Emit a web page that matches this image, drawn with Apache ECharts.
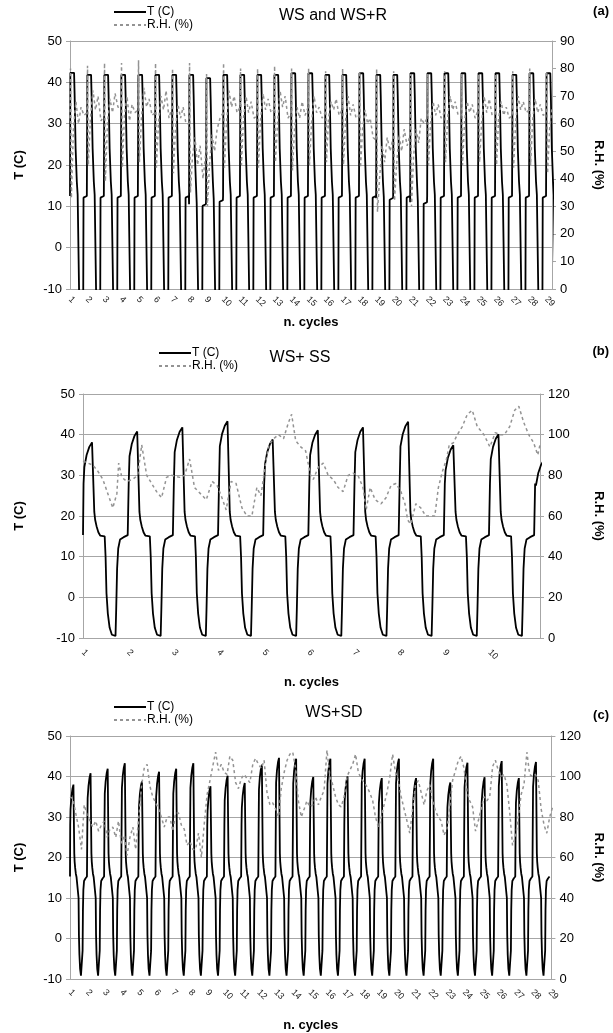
<!DOCTYPE html>
<html>
<head>
<meta charset="utf-8">
<script src="https://cdn.jsdelivr.net/npm/echarts@6/dist/echarts.min.js"></script>
<style>
  html, body { margin: 0; padding: 0; background: #fff; }
  #chart { width: 613px; height: 1033px; }
</style>
</head>
<body>
<div id="chart"></div>
<script>
// ---------------- data ----------------
// x is measured in cycles: cycle k spans [k-1, k); tick k-1 carries label "k".
const cycleLabelsA = ['1','2','3','4','5','6','7','8','9','10','11','12','13','14','15','16','17','18','19','20','21','22','23','24','25','26','27','28','29'];
const cycleLabelsB = ['1','2','3','4','5','6','7','8','9','10'];
const cycleLabelsC = ['1','2','3','4','5','6','7','8','9','10','11','12','13','14','15','16','17','18','19','20','21','22','23','24','25','26','27','28','29'];

// Temperature profile of one cycle: [phase, value, reference]
// reference 'peak' -> value is an offset from that cycle's peak,
// 'plat' -> offset from that cycle's plateau, none -> absolute °C.
const tProfileA = [
  [0.00, 0, 'plat'], [0.02, 0, 'peak'], [0.24, 0, 'peak'], [0.27, -5, 'peak'],
  [0.33, 24], [0.40, 16], [0.45, 0.3, 'plat'], [0.55, 0, 'plat'],
  [0.575, -22], [0.77, -22], [0.795, -0.4, 'plat'], [0.83, 0, 'plat'], [0.99, 0, 'plat']
];
const tProfileBC = [
  [0.00, 0.3, 'plat'], [0.012, 28], [0.03, -6.5, 'peak'], [0.08, -3.5, 'peak'],
  [0.14, -1.5, 'peak'], [0.20, -0.4, 'peak'], [0.235, 0, 'peak'], [0.25, 21],
  [0.27, 19], [0.30, 17.5], [0.34, 16], [0.38, 0.2, 'plat'], [0.48, 0, 'plat'],
  [0.50, 10], [0.52, 1], [0.55, -4], [0.59, -7.5], [0.64, -9.2], [0.72, -9.5],
  [0.735, -3], [0.755, 7], [0.78, 12], [0.82, -0.8, 'plat'], [0.90, -0.2, 'plat'], [0.99, 0.3, 'plat']
];

// (a) WS and WS+R
const peakA = [42.3, 41.8, 41.8, 41.8, 41.8, 41.8, 41.8, 41.8, 41.0, 41.8, 41.8, 41.8, 41.8, 42.2, 42.2,
               41.8, 41.8, 42.2, 41.8, 41.8, 42.2, 42.2, 42.2, 42.2, 42.2, 42.2, 41.8, 42.2, 42.2];
const plateauA = [12.5, 12.5, 12.5, 12.5, 12.5, 12.5, 12.5, 10.5, 11.5, 12.5, 12.5, 12.5, 12.5, 12.5, 12.5,
                  12.5, 12.5, 12.5, 12.0, 12.5, 11.0, 12.5, 12.5, 12.5, 12.5, 12.5, 12.5, 12.5, 12.5];
const rhPhaseA = [0, 0.03, 0.08, 0.20, 0.35, 0.50, 0.65, 0.82];
const rhA = [
  [62, 80, 33, 58, 68, 60, 66, 63], [64, 81, 45, 62, 72, 65, 70, 61], [63, 82, 39, 60, 69, 64, 71, 66],
  [66, 82, 44, 63, 70, 61, 67, 64], [65, 83, 46, 62, 73, 66, 69, 63], [64, 82, 44, 60, 70, 65, 72, 62],
  [66, 80, 42, 58, 67, 62, 66, 60], [60, 82, 35, 48, 55, 45, 52, 40], [50, 78, 30, 45, 56, 50, 58, 62],
  [64, 82, 44, 60, 72, 66, 70, 64], [66, 80, 45, 62, 70, 64, 68, 62], [63, 80, 44, 61, 71, 65, 69, 64],
  [65, 81, 46, 60, 72, 66, 70, 62], [64, 80, 43, 58, 66, 62, 68, 63], [66, 80, 45, 60, 70, 64, 66, 62],
  [64, 79, 46, 62, 68, 65, 69, 63], [65, 80, 45, 61, 70, 63, 67, 62], [63, 79, 44, 58, 65, 60, 62, 55],
  [54, 80, 28, 40, 52, 46, 55, 50], [55, 79, 32, 45, 56, 50, 58, 52], [56, 78, 30, 48, 58, 53, 62, 60],
  [62, 78, 45, 60, 68, 63, 67, 62], [64, 79, 46, 62, 70, 65, 68, 63], [63, 78, 45, 61, 68, 64, 67, 62],
  [65, 78, 46, 60, 70, 64, 69, 63], [64, 78, 45, 62, 68, 63, 66, 62], [63, 79, 44, 60, 70, 65, 68, 64],
  [65, 80, 45, 61, 69, 64, 67, 63], [64, 79, 42, 58, 66]
];

// (b) WS+ SS
const peakB = [38.5, 41.2, 42.2, 43.7, 39.2, 41.5, 42.2, 43.6, 37.8, 40.5, 34.0];
const plateauB = [15, 15, 15, 15, 15, 15, 15, 15, 15, 15, 15];
const rhB = [
  [0.00, 87], [0.11, 86], [0.22, 85], [0.33, 82], [0.44, 78], [0.55, 71], [0.66, 64], [0.75, 71], [0.79, 86], [0.86, 79], [0.97, 77],
  [1.10, 78], [1.21, 80], [1.30, 95], [1.41, 80], [1.52, 76], [1.63, 72], [1.74, 69], [1.85, 79], [1.96, 80],
  [2.14, 79], [2.25, 80], [2.36, 88], [2.47, 74], [2.60, 71], [2.73, 68], [2.86, 77], [2.97, 75],
  [3.06, 70], [3.17, 63], [3.28, 77], [3.39, 76], [3.52, 64], [3.63, 60], [3.74, 60], [3.85, 74], [3.94, 70],
  [4.05, 87], [4.12, 95], [4.22, 98], [4.33, 100], [4.44, 98], [4.55, 106], [4.62, 110], [4.71, 97], [4.82, 94], [4.93, 92],
  [5.04, 80], [5.10, 78], [5.21, 84], [5.32, 86], [5.43, 80], [5.54, 78], [5.65, 74], [5.76, 72], [5.87, 80], [5.98, 81],
  [6.09, 80], [6.20, 74], [6.27, 63], [6.36, 74], [6.47, 68], [6.60, 66], [6.71, 69], [6.82, 75], [6.93, 76],
  [7.04, 72], [7.13, 66], [7.19, 58], [7.26, 56], [7.37, 66], [7.48, 64], [7.59, 60], [7.70, 60], [7.79, 60], [7.87, 74], [7.96, 82],
  [8.05, 88], [8.11, 95], [8.20, 96], [8.29, 100], [8.40, 104], [8.51, 110], [8.62, 112], [8.73, 104], [8.88, 100],
  [9.01, 94], [9.13, 101], [9.24, 100], [9.33, 100], [9.45, 104], [9.56, 112], [9.65, 114], [9.76, 106], [9.87, 100], [9.98, 96],
  [10.07, 90], [10.12, 95]
];

// (c) WS+SD
const peakC = [38.4, 41.2, 42.3, 43.7, 39.2, 41.6, 42.3, 43.7, 38.0, 40.6, 38.8, 43.3, 45.0, 44.8,
               40.3, 44.8, 40.4, 44.8, 40.0, 44.8, 40.0, 44.8, 38.9, 43.8, 40.2, 44.2, 40.0, 44.0];
const plateauC = [15, 15, 15, 15, 15, 15, 15, 15, 15, 15, 15, 15, 15, 15,
                  15, 15, 15, 15, 15, 15, 15, 15, 15, 15, 15, 15, 15, 15];
const rhPhaseC = [0, 0.17, 0.33, 0.50, 0.67, 0.83];
const rhC = [
  [90, 89, 82, 75, 64, 86], [81, 78, 75, 78, 73, 76], [78, 70, 74, 75, 70, 78], [67, 71, 61, 70, 75, 64],
  [78, 95, 104, 106, 95, 90], [87, 84, 80, 75, 80, 80], [73, 82, 82, 76, 74, 66], [68, 64, 64, 72, 60, 76],
  [91, 98, 105, 112, 103, 106], [102, 101, 110, 108, 97, 94], [99, 101, 99, 97, 106, 109], [106, 104, 108, 92, 86, 87],
  [84, 80, 94, 102, 108, 111], [112, 104, 88, 80, 84, 88], [85, 86, 90, 86, 90, 93], [113, 100, 96, 90, 86, 85],
  [90, 100, 103, 106, 111, 102], [99, 97, 95, 92, 88, 80], [75, 80, 86, 92, 100, 111], [102, 98, 90, 84, 78, 72],
  [84, 96, 98, 92, 86, 93], [96, 88, 83, 80, 78, 71], [74, 85, 98, 103, 108, 110], [104, 93, 88, 85, 73, 78],
  [84, 90, 88, 90, 105, 108], [103, 100, 101, 96, 82, 66], [70, 80, 91, 96, 112, 101], [100, 101, 98, 84, 76, 72],
  [80, 85]
];

// ---------------- series builders ----------------
function buildTemp(profile, peaks, plateaus) {
  const pts = [];
  peaks.forEach((p, k) => {
    const q = plateaus[k];
    profile.forEach(([ph, v, ref]) => {
      const y = ref === 'peak' ? p + v : ref === 'plat' ? q + v : v;
      pts.push([k + ph, y]);
    });
  });
  return pts;
}
function buildRh(phases, rows) {
  const pts = [];
  rows.forEach((row, k) => row.forEach((v, j) => pts.push([k + phases[j], v])));
  return pts;
}

const FONT = '"Liberation Sans", Arial, sans-serif';
const GRID_GRAY = '#a6a6a6';

const panels = [
  { grid: { left: 70, top: 41, width: 486, height: 248 }, xMax: 28.34, labels: cycleLabelsA,
    rhMax: 90, rhInterval: 10, tNameGap: 44, rhNameGap: 40, xNameGap: 27, xLabelMargin: 9,
    temp: buildTemp(tProfileA, peakA, plateauA), rh: buildRh(rhPhaseA, rhA) },
  { grid: { left: 83, top: 394, width: 460, height: 244 }, xMax: 10.12, labels: cycleLabelsB,
    rhMax: 120, rhInterval: 20, tNameGap: 57, rhNameGap: 52, xNameGap: 38, xLabelMargin: 13,
    temp: buildTemp(tProfileBC, peakB, plateauB), rh: rhB },
  { grid: { left: 70, top: 736, width: 486, height: 243 }, xMax: 28.1, labels: cycleLabelsC,
    rhMax: 120, rhInterval: 20, tNameGap: 44, rhNameGap: 40, xNameGap: 40, xLabelMargin: 12,
    temp: buildTemp(tProfileBC, peakC, plateauC), rh: buildRh(rhPhaseC, rhC) }
];

const grids = [], xAxes = [], yAxes = [], series = [];
panels.forEach((pn, i) => {
  grids.push(pn.grid);
  xAxes.push({
    type: 'value', gridIndex: i, min: 0, max: pn.xMax, interval: 1,
    axisLine: { show: true, onZero: false, lineStyle: { color: GRID_GRAY, width: 1 } },
    axisTick: { show: false },
    splitLine: { show: false },
    axisLabel: {
      rotate: -45, fontSize: 9, color: '#222', fontFamily: FONT, margin: pn.xLabelMargin,
      formatter: v => (Number.isInteger(v) && pn.labels[v] !== undefined) ? pn.labels[v] : ''
    },
    name: 'n. cycles', nameLocation: 'middle', nameGap: pn.xNameGap,
    nameTextStyle: { fontSize: 13, fontWeight: 'bold', color: '#000', fontFamily: FONT }
  });
  yAxes.push({
    type: 'value', gridIndex: i, position: 'left', min: -10, max: 50, interval: 10,
    axisLine: { show: true, lineStyle: { color: GRID_GRAY, width: 1 } },
    axisTick: { show: true, length: 4, lineStyle: { color: GRID_GRAY } },
    splitLine: { show: true, lineStyle: { color: GRID_GRAY, width: 1 } },
    axisLabel: { fontSize: 13, color: '#000', fontFamily: FONT, margin: 8 },
    name: 'T (C)', nameLocation: 'middle', nameGap: pn.tNameGap,
    nameTextStyle: { fontSize: 13, fontWeight: 'bold', color: '#000', fontFamily: FONT }
  });
  yAxes.push({
    type: 'value', gridIndex: i, position: 'right', min: 0, max: pn.rhMax, interval: pn.rhInterval,
    axisLine: { show: true, lineStyle: { color: GRID_GRAY, width: 1 } },
    axisTick: { show: true, length: 4, lineStyle: { color: GRID_GRAY } },
    splitLine: { show: false },
    axisLabel: { fontSize: 13, color: '#000', fontFamily: FONT, margin: 8 },
    name: 'R.H. (%)', nameLocation: 'middle', nameGap: pn.rhNameGap, nameRotate: -90,
    nameTextStyle: { fontSize: 13, fontWeight: 'bold', color: '#000', fontFamily: FONT }
  });
  series.push({
    name: 'T (C)', type: 'line', xAxisIndex: i, yAxisIndex: 2 * i,
    data: pn.temp, symbol: 'none', showSymbol: false,
    lineStyle: { color: '#000', width: 1.8 }, itemStyle: { color: '#000' }, z: 2
  });
  series.push({
    name: 'R.H. (%)', type: 'line', xAxisIndex: i, yAxisIndex: 2 * i + 1,
    data: pn.rh, symbol: 'none', showSymbol: false,
    lineStyle: { color: '#939393', width: 1.5, type: [3, 3] }, itemStyle: { color: '#939393' }, z: 3
  });
});

// legend shows only the line sample (marker hidden)
const legendBase = {
  orient: 'vertical', itemGap: 1, itemWidth: 32, itemHeight: 10, padding: 0,
  data: ['T (C)', 'R.H. (%)'], selectedMode: false,
  itemStyle: { opacity: 0 },
  textStyle: { fontSize: 12, color: '#000', fontFamily: FONT, padding: [0, 0, 0, -4] }
};
const titleStyle = { fontSize: 16, fontWeight: 'normal', color: '#000', fontFamily: FONT };
const tagStyle = { fontSize: 13, fontWeight: 'bold', color: '#000', fontFamily: FONT };

const option = {
  backgroundColor: '#fff',
  animation: false,
  title: [
    { text: 'WS and WS+R', left: 333, top: 8, textAlign: 'center', padding: 0, textStyle: titleStyle },
    { text: '(a)', right: 4, top: 5, padding: 0, textStyle: tagStyle },
    { text: 'WS+ SS', left: 300, top: 350, textAlign: 'center', padding: 0, textStyle: titleStyle },
    { text: '(b)', right: 4, top: 345, padding: 0, textStyle: tagStyle },
    { text: 'WS+SD', left: 334, top: 705, textAlign: 'center', padding: 0, textStyle: titleStyle },
    { text: '(c)', right: 4, top: 709, padding: 0, textStyle: tagStyle }
  ],
  legend: [
    Object.assign({}, legendBase, { left: 113, top: 6 }),
    Object.assign({}, legendBase, { left: 158, top: 347 }),
    Object.assign({}, legendBase, { left: 113, top: 701 })
  ],
  grid: grids,
  xAxis: xAxes,
  yAxis: yAxes,
  series: series
};

const chart = echarts.init(document.getElementById('chart'), null, { renderer: 'canvas' });
chart.setOption(option);
</script>
</body>
</html>
